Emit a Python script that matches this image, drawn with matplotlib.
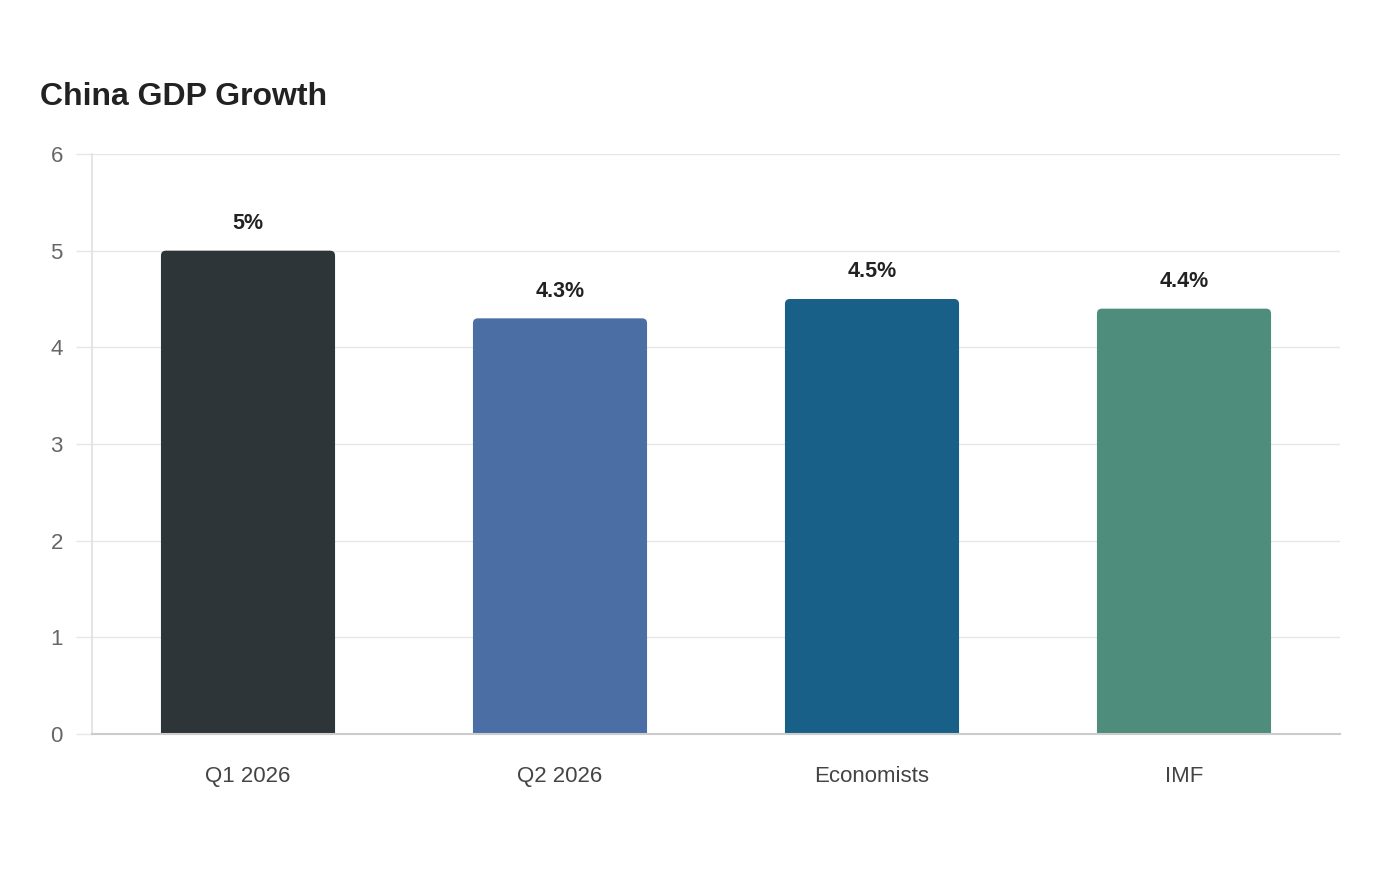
import matplotlib
matplotlib.use("Agg")
import matplotlib.pyplot as plt
from matplotlib.patches import FancyBboxPatch

plt.rcParams['font.family'] = ['Liberation Sans', 'DejaVu Sans']

categories = ["Q1 2026", "Q2 2026", "Economists", "IMF"]
values = [5.0, 4.3, 4.5, 4.4]
labels = ["5%", "4.3%", "4.5%", "4.4%"]
colors = ["#2e3538", "#4b6ea5", "#196088", "#4e8c7b"]
yticks = [0, 1, 2, 3, 4, 5, 6]

W, H = 1400, 880
fig = plt.figure(figsize=(W / 100, H / 100), dpi=100)
ax = fig.add_axes([92 / W, 1 - 734 / H, 1248 / W, 580 / H])

ax.set_xlim(-0.5, len(categories) - 0.5)
ax.set_ylim(0, 6)

bar_w = 0.558
bars = ax.bar(range(len(categories)), values, width=bar_w, color=colors, zorder=3)

# rounded top corners
px_x = 1248 / (len(categories))  # px per x unit
px_y = 580 / 6
aspect = px_x / px_y
r = 5 / px_x
for b, c in zip(bars, colors):
    b.set_visible(False)
    x0, w, h = b.get_x(), b.get_width(), b.get_height()
    p = FancyBboxPatch((x0, -0.2), w, h + 0.2,
                       boxstyle=f"round,pad=0,rounding_size={r}",
                       mutation_aspect=aspect, facecolor=c, edgecolor='none',
                       zorder=3, clip_on=True)
    ax.add_patch(p)
    p.set_clip_box(ax.bbox)

for i, (v, lab) in enumerate(zip(values, labels)):
    ax.annotate(lab, (i, v), xytext=(0, 19.5), textcoords='offset points',
                ha='center', va='center', fontsize=15.5, fontweight='bold',
                color='#222222', zorder=4)

ax.set_xticks(range(len(categories)))
ax.set_xticklabels(categories)
ax.set_yticks(yticks)
ax.set_yticklabels([str(t) for t in yticks])

ax.grid(axis='y', color='#e6e6e6', linewidth=1, zorder=0)
ax.set_axisbelow(True)
for s in ['top', 'right']:
    ax.spines[s].set_visible(False)
ax.spines['left'].set_color('#e0e0e0')
ax.spines['left'].set_linewidth(1.2)
ax.spines['bottom'].set_color('#cccccc')
ax.spines['bottom'].set_linewidth(1.5)
ax.spines['bottom'].set_zorder(5)

ax.tick_params(axis='y', length=11.5, width=1, color='#e6e6e6', pad=9.5,
               labelsize=16, labelcolor='#666666')
ax.tick_params(axis='x', length=0, pad=23, labelsize=16, labelcolor='#444444')

fig.text(40 / W, 1 - 97 / H, "China GDP Growth", ha='left', va='center',
         fontsize=23, fontweight='bold', color='#222222')

fig.savefig("out.png", dpi=100, facecolor='white')
